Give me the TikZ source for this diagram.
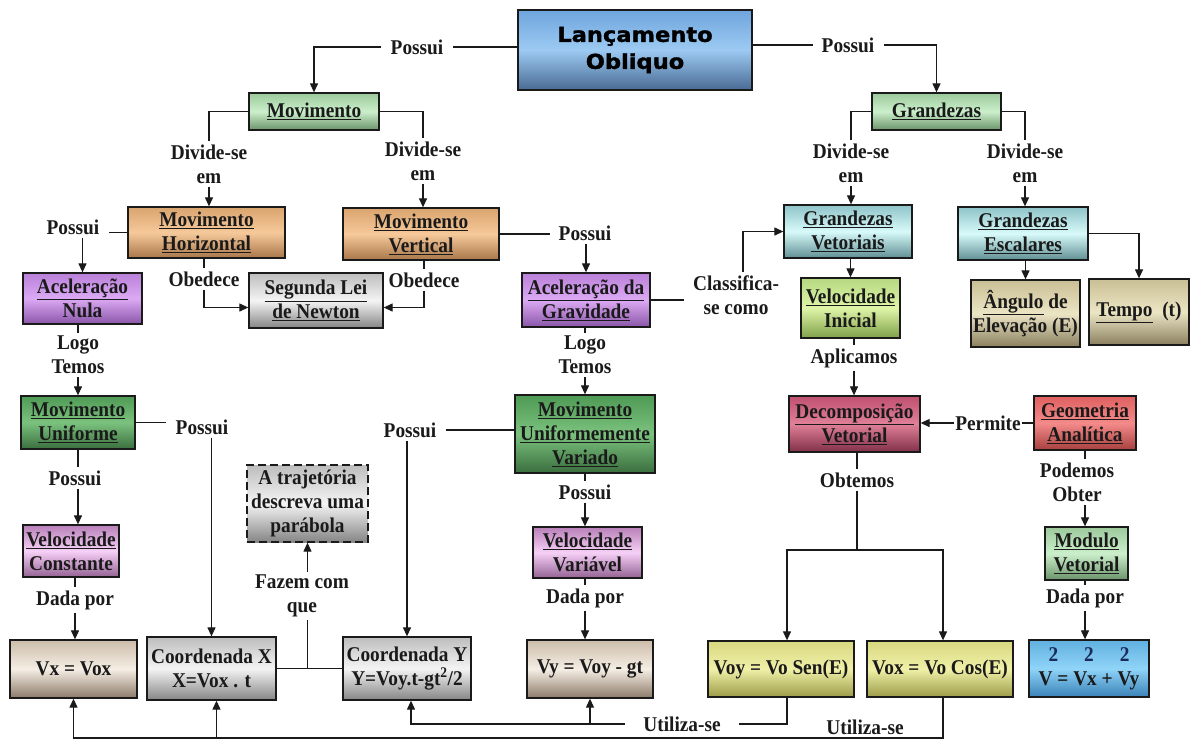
\documentclass[tikz,border=0pt]{standalone}
\usepackage{fontspec}
\setmainfont{Liberation Serif}[FakeStretch=0.92]
\newfontfamily\titlefont{DejaVu Sans}[FakeStretch=1.1,FakeBold=1.6]
\usetikzlibrary{arrows.meta,calc}
\newcommand\mylbf{\fontsize{21}{24}\selectfont\bfseries}
\newcommand\boxat[7]{\node[bx,#2,minimum width={#5-#3},minimum height={#6-#4}] (#1) at ({(#3+#5)/2},{(#4+#6)/2}) {#7};}
\newcommand\defgrad[4]{\definecolor{#1A}{HTML}{#2}\definecolor{#1B}{HTML}{#3}\definecolor{#1C}{HTML}{#4}\tikzset{#1/.style={top color=#1A, bottom color=#1C, middle color=#1B}}}
\definecolor{lineC}{HTML}{1A1A1A}
\definecolor{navyC}{HTML}{1A2A5A}
\defgrad{ctitle}{6FA5DD}{9CCAF2}{496A93}
\defgrad{cmint}{9CC99C}{CBEFCB}{6B946B}
\defgrad{corange}{D9A46E}{F6C99A}{A8764A}
\defgrad{cpurple}{B980D8}{DCAAF4}{8A55A8}
\defgrad{cgray}{BDBDBD}{F4F4F4}{858585}
\defgrad{cdgreen}{4E9A55}{7BC27E}{3A6E3E}
\defgrad{cpink}{B880B8}{F6D0F6}{946294}
\defgrad{cbeige}{CCBCAA}{F5EEE4}{8C7A68}
\defgrad{ccyan}{8EC4C8}{D8FAFA}{5F8F93}
\defgrad{clime}{B6D880}{DFF5A8}{7FA048}
\defgrad{ckhaki}{C9BF95}{ECE5C4}{8A8060}
\defgrad{crose}{C05070}{E08098}{803048}
\defgrad{cred}{E06060}{F48A8A}{A84040}
\defgrad{cyellow}{D8D880}{F0F0A8}{9C9C48}
\defgrad{cblue}{60B0E0}{90D4F8}{3A82B8}
\tikzset{
 lbl/.style={font=\mylbf, inner xsep=9pt, inner ysep=3pt, align=center, text=lineC},
 bx/.style={draw=lineC, line width=1.3pt, inner sep=0pt, align=center, font=\mylbf, text=lineC},
 titlefnt/.style={font=\titlefont\fontsize{20.5}{27}\selectfont\bfseries, text=black},
 dashbox/.style={dash pattern=on 8pt off 4pt},
 ln/.style={line width=1.2pt, draw=lineC},
 arr/.style={-{Triangle[length=9pt,width=8pt]}},
}
\begin{document}
\begin{tikzpicture}[x=1pt,y=-1pt]
\useasboundingbox (0,0) rectangle (1199,740);
\fill[white] (0,0) rectangle (1199,740);
% boxes
\boxat{title}{ctitle,titlefnt}{518}{10}{752}{90}{Lançamento\\Obliquo}
\boxat{mov}{cmint}{249}{93}{379}{130}{\underline{Movimento}}
\boxat{gr}{cmint}{872}{93}{1001}{130}{\underline{Grandezas}}
\boxat{mh}{corange}{128}{207}{285}{258}{\underline{Movimento}\\\underline{Horizontal}}
\boxat{mv}{corange}{343}{208}{499}{260}{\underline{Movimento}\\\underline{Vertical}}
\boxat{gv}{ccyan}{784}{205}{912}{258}{\underline{Grandezas}\\\underline{Vetoriais}}
\boxat{ge}{ccyan}{958}{207}{1088}{260}{\underline{Grandezas}\\\underline{Escalares}}
\boxat{an}{cpurple}{23}{273}{142}{324}{\underline{Aceleração}\\Nula}
\boxat{sl}{cgray}{249}{273}{383}{328}{\underline{Segunda Lei}\\\underline{de Newton}}
\boxat{ag}{cpurple}{522}{273}{650}{327}{\underline{Aceleração da}\\\underline{Gravidade}}
\boxat{vi}{clime}{801}{278}{900}{338}{\underline{Velocidade}\\Inicial}
\boxat{ang}{ckhaki}{971}{280}{1080}{347}{\underline{Ângulo} de\\Elevação (E)}
\boxat{tempo}{ckhaki}{1089}{279}{1189}{345}{\underline{Tempo}\ \ (t)}
\boxat{mu}{cdgreen}{21}{396}{135}{449}{\underline{Movimento}\\\underline{Uniforme}}
\boxat{muv}{cdgreen}{515}{395}{655}{473}{\underline{Movimento}\\\underline{Uniformemente}\\\underline{Variado}}
\boxat{dv}{crose}{789}{396}{920}{452}{\underline{Decomposição}\\\underline{Vetorial}}
\boxat{geo}{cred}{1034}{396}{1136}{450}{\underline{Geometria}\\\underline{Analítica}}
\boxat{traj}{cgray,dashbox}{247}{465}{368}{542}{A trajetória\\descreva uma\\parábola}
\boxat{vc}{cpink}{23}{525}{119}{577}{\underline{Velocidade}\\Constante}
\boxat{vv}{cpink}{533}{527}{642}{578}{\underline{Velocidade}\\Variável}
\boxat{mod}{cmint}{1045}{527}{1128}{580}{\underline{Modulo}\\\underline{Vetorial}}
\boxat{vx}{cbeige}{10}{640}{137}{698}{Vx = Vox}
\boxat{cx}{cgray}{147}{637}{276}{700}{Coordenada X\\X=Vox . t}
\boxat{cy}{cgray}{343}{637}{471}{700}{Coordenada Y\\Y=Voy.t-gt\textsuperscript{2}/2}
\boxat{vy}{cbeige}{527}{640}{653}{698}{Vy = Voy - gt}
\boxat{voy}{cyellow}{708}{641}{854}{697}{Voy = Vo Sen(E)}
\boxat{vox}{cyellow}{867}{641}{1013}{697}{Vox = Vo Cos(E)}
\boxat{vmod}{cblue}{1029}{640}{1149}{697}{{\color{navyC}2\hspace{26pt}2\hspace{26pt}2}\\V = Vx + Vy}
% labels
\node[lbl] (l1) at (417,47) {Possui};
\node[lbl] (l2) at (848,45) {Possui};
\node[lbl] (l3) at (209,164) {Divide-se\\em};
\node[lbl] (l4) at (423,161) {Divide-se\\em};
\node[lbl] (l5) at (851,163) {Divide-se\\em};
\node[lbl] (l6) at (1025,163) {Divide-se\\em};
\node[lbl] (l7) at (73,227) {Possui};
\node[lbl] (l8) at (585,233) {Possui};
\node[lbl] (l9) at (204,279) {Obedece};
\node[lbl] (l10) at (424,280) {Obedece};
\node[lbl] (l11) at (736,295) {Classifica-\\se como};
\node[lbl] (l12) at (78,355) {Logo\\Temos};
\node[lbl] (l13) at (585,355) {Logo\\Temos};
\node[lbl] (l14) at (854,358) {Aplicamos};
\node[lbl,inner xsep=1pt] (l15) at (988,423) {Permite};
\node[lbl] (l16) at (202,427) {Possui};
\node[lbl] (l17) at (410,430) {Possui};
\node[lbl] (l18) at (75,478) {Possui};
\node[lbl] (l19) at (857,480) {Obtemos};
\node[lbl] (l20) at (1077,482) {Podemos\\Obter};
\node[lbl] (l21) at (585,492) {Possui};
\node[lbl] (l22) at (302,596) {Fazem com\\que};
\node[lbl] (l23) at (75,600) {Dada por};
\node[lbl] (l24) at (585,598) {Dada por};
\node[lbl] (l25) at (1085,598) {Dada por};
\node[lbl,inner xsep=18pt] (l26) at (682,724) {Utiliza-se};
\node[lbl] (l27) at (865,727) {Utiliza-se};
% connectors
\draw[ln] (title.west |- l1) -- (l1.east);
\draw[ln,arr] (l1.west) -| (mov.north);
\draw[ln] (title.east |- l2) -- (l2.west);
\draw[ln,arr] (l2.east) -| (gr.north);
\draw[ln] (mov.west) -| (l3.north);
\draw[ln,arr] (l3.south) -- (l3.south |- mh.north);
\draw[ln] (mov.east) -| (l4.north);
\draw[ln,arr] (l4.south) -- (l4.south |- mv.north);
\draw[ln] (gr.west) -| (l5.north);
\draw[ln,arr] (l5.south) -- (l5.south |- gv.north);
\draw[ln] (gr.east) -| (l6.north);
\draw[ln,arr] (l6.south) -- (l6.south |- ge.north);
\draw[ln] (mh.west) -- (mh.west -| l7.east);
\draw[ln,arr] (l7.south -| an.north) -- (an.north);
\draw[ln] (mv.east) -- (mv.east -| l8.west);
\draw[ln,arr] (l8.south -| ag.north) -- (ag.north);
\draw[ln] (mh.south -| l9.north) -- (l9.north);
\draw[ln,arr] (l9.south) |- ([yshift=-7pt]sl.west);
\draw[ln] (mv.south -| l10.north) -- (l10.north);
\draw[ln,arr] (l10.south) |- ([yshift=-7pt]sl.east);
\draw[ln] (ag.east) -- (ag.east -| l11.west);
\draw[ln,arr] ([xshift=7pt]l11.north) |- (gv.west);
\draw[ln,arr] (gv.south -| vi.north) -- (vi.north);
\draw[ln,arr] (ge.south -| ang.north) -- (ang.north);
\draw[ln,arr] (ge.east) -| (tempo.north);
\draw[ln] (an.south -| l12.north) -- (l12.north);
\draw[ln,arr] (l12.south) -- (l12.south |- mu.north);
\draw[ln] (ag.south -| l13.north) -- (l13.north);
\draw[ln,arr] (l13.south) -- (l13.south |- muv.north);
\draw[ln] (vi.south -| l14.north) -- (l14.north);
\draw[ln,arr] (l14.south) -- (l14.south |- dv.north);
\draw[ln] (geo.west) -- (geo.west -| l15.east);
\draw[ln,arr] (l15.west) -- (l15.west -| dv.east);
\draw[ln] (mu.east) -- (mu.east -| l16.west);
\draw[ln,arr] (l16.south -| cx.north) -- (cx.north);
\draw[ln] (l17.east) -- (l17.east -| muv.west);
\draw[ln,arr] (l17.south -| cy.north) -- (cy.north);
\draw[ln] (mu.south) -- (mu.south |- l18.north);
\draw[ln,arr] (mu.south |- l18.south) -- (mu.south |- vc.north);
\draw[ln] (muv.south -| l21.north) -- (l21.north);
\draw[ln,arr] (l21.south) -- (l21.south |- vv.north);
\draw[ln] (vc.south -| l23.north) -- (l23.north);
\draw[ln,arr] (l23.south) -- (l23.south |- vx.north);
\draw[ln] (vv.south -| l24.north) -- (l24.north);
\draw[ln,arr] (l24.south) -- (l24.south |- vy.north);
\draw[ln] (dv.south -| l19.north) -- (l19.north);
\coordinate (obt) at (857,550);
\draw[ln] (l19.south) -- (obt);
\draw[ln,arr] (obt) -| ([xshift=6pt]voy.north);
\draw[ln,arr] (obt) -| ([xshift=3pt]vox.north);
\draw[ln] (geo.south) -- (geo.south |- l20.north);
\draw[ln,arr] (geo.south |- l20.south) -- (geo.south |- mod.north);
\draw[ln] (mod.south -| l25.north) -- (l25.north);
\draw[ln,arr] (l25.south) -- (l25.south |- vmod.north);
\coordinate (fz) at (cx.east -| traj.south);
\draw[ln] (cx.east) -- (cy.west);
\draw[ln] (fz) -- (fz |- l22.south);
\draw[ln,arr] (fz |- l22.north) -- (traj.south);
% bottom connectors
\coordinate (ub) at (0,738);
\coordinate (cxb) at ([xshift=5pt]cx.south);
\draw[ln] ([xshift=6pt]voy.south) |- (l26.east);
\draw[ln,arr] (l26.west) -| ([xshift=4pt]cy.south);
\draw[ln,arr] (vy.south |- l26.west) -- (vy.south);
\draw[ln,arr] ([xshift=3pt]vox.south) |- (vx.south |- ub) -- (vx.south);
\draw[ln,arr] (cxb |- ub) -- (cxb);
\end{tikzpicture}
\end{document}
